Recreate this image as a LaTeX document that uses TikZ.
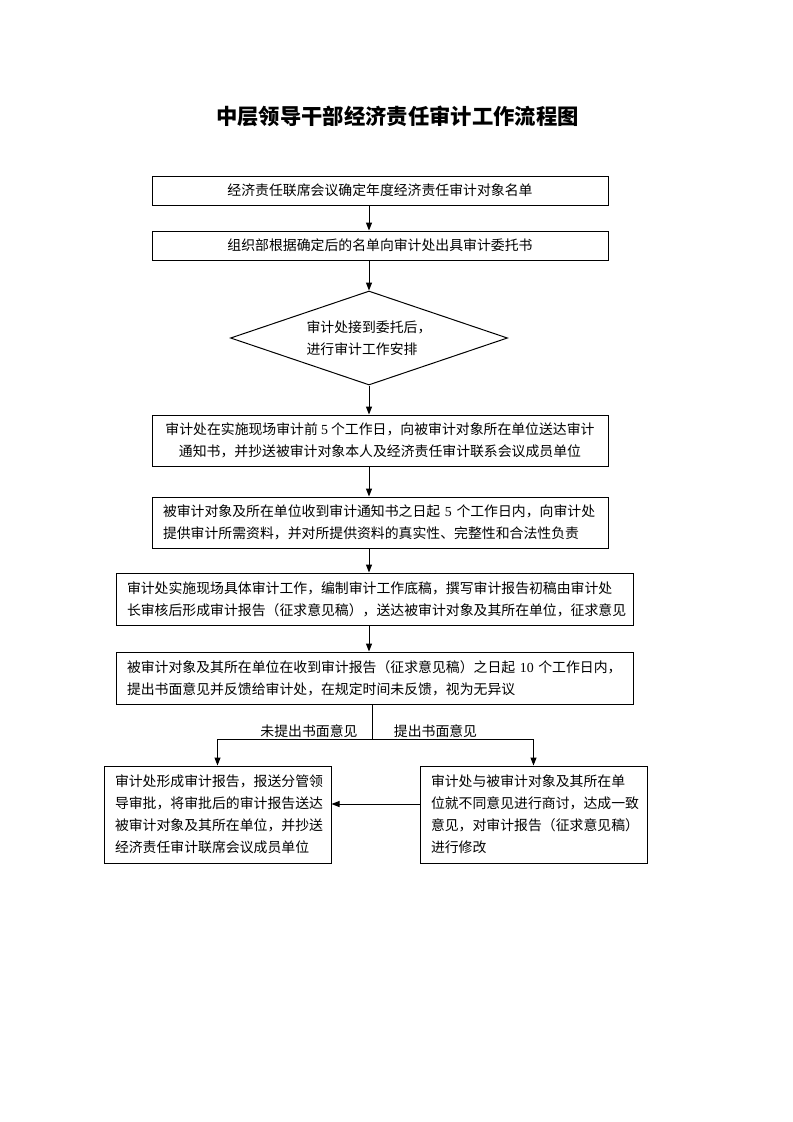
\documentclass[tikz,border=0pt]{standalone}
\usepackage{fontspec}
\setmainfont{Liberation Serif}
\newfontfamily\cjk{Noto Sans CJK SC}
\newfontfamily\latf{Liberation Serif}
\newcommand\dg[1]{{\latf #1}}
\usetikzlibrary{shapes.geometric,arrows.meta}
\begin{document}
\begin{tikzpicture}[x=0.75pt,y=-0.75pt,
  every node/.style={font=\cjk\fontsize{10.4pt}{16.5pt}\selectfont, text=black},
  box/.style={draw, line width=0.75pt, rectangle, inner sep=0pt},
  widebox/.style={box, minimum width=342pt},
  wiserbox/.style={box, minimum width=387.75pt, minimum height=39pt, align=left, text width=371.25pt},
  lowbox/.style={box, minimum width=170.25pt, minimum height=72.75pt, align=left, text width=153.75pt},
  conn/.style={draw, line width=0.75pt},
  arr/.style={conn, -{Triangle[length=6pt,width=4.5pt]}}
]
\useasboundingbox (0,0) rectangle (793,1122);

\node (t) at (397.5,116) {\fontsize{16pt}{20pt}\selectfont\bfseries 中层领导干部经济责任审计工作流程图};

\node[widebox, minimum height=21.75pt] (b1) at (380,190.5) {经济责任联席会议确定年度经济责任审计对象名单};
\node[widebox, minimum height=21.75pt] (b2) at (380,245.5) {组织部根据确定后的名单向审计处出具审计委托书};
\node[draw, diamond, aspect=2.95, line width=0.75pt, minimum width=207.75pt, minimum height=70.5pt, inner sep=0pt, align=left] (d) at (369,338) {审计处接到委托后，\\进行审计工作安排};
\node[widebox, minimum height=38.25pt, align=center] (b3) at (380,440.5) {审计处在实施现场审计前~\dg{5}~个工作日，向被审计对象所在单位送达审计\\通知书，并抄送被审计对象本人及经济责任审计联系会议成员单位};
\node[widebox, minimum height=38.25pt, align=left, text width=325.5pt] (b4) at (380,522.5) {被审计对象及所在单位收到审计通知书之日起~\dg{5}~个工作日内，向审计处\\提供审计所需资料，并对所提供资料的真实性、完整性和合法性负责};
\node[wiserbox] (b5) at (374.5,599) {审计处实施现场具体审计工作，编制审计工作底稿，撰写审计报告初稿由审计处\\长审核后形成审计报告（征求意见稿），送达被审计对象及其所在单位，征求意见};
\node[wiserbox] (b6) at (374.5,678) {被审计对象及其所在单位在收到审计报告（征求意见稿）之日起~\dg{10}~个工作日内，\\提出书面意见并反馈给审计处，在规定时间未反馈，视为无异议};

\node[lowbox] (bl) at (217.5,814.5) {审计处形成审计报告，报送分管领\\导审批，将审批后的审计报告送达\\被审计对象及其所在单位，并抄送\\经济责任审计联席会议成员单位};
\node[lowbox] (br) at (533.5,814.5) {审计处与被审计对象及其所在单\\位就不同意见进行商讨，达成一致\\意见，对审计报告（征求意见稿）\\进行修改};

\node (l1) at (309,731) {未提出书面意见};
\node (l2) at (435.5,731) {提出书面意见};

\coordinate (sp) at (369,0);
\coordinate (j) at (372,739);
\coordinate (hy) at (0,804);
\draw[arr] (b1.south -| sp) -- (b2.north -| sp);
\draw[arr] (b2.south -| sp) -- (d.north);
\draw[arr] (d.south) -- (b3.north -| sp);
\draw[arr] (b3.south -| sp) -- (b4.north -| sp);
\draw[arr] (b4.south -| sp) -- (b5.north -| sp);
\draw[arr] (b5.south -| sp) -- (b6.north -| sp);
\draw[conn] (b6.south -| j) -- (j);
\draw[arr] (j) -| (bl.north);
\draw[arr] (j) -| (br.north);
\draw[arr] (br.west |- hy) -- (bl.east |- hy);
\end{tikzpicture}
\end{document}
